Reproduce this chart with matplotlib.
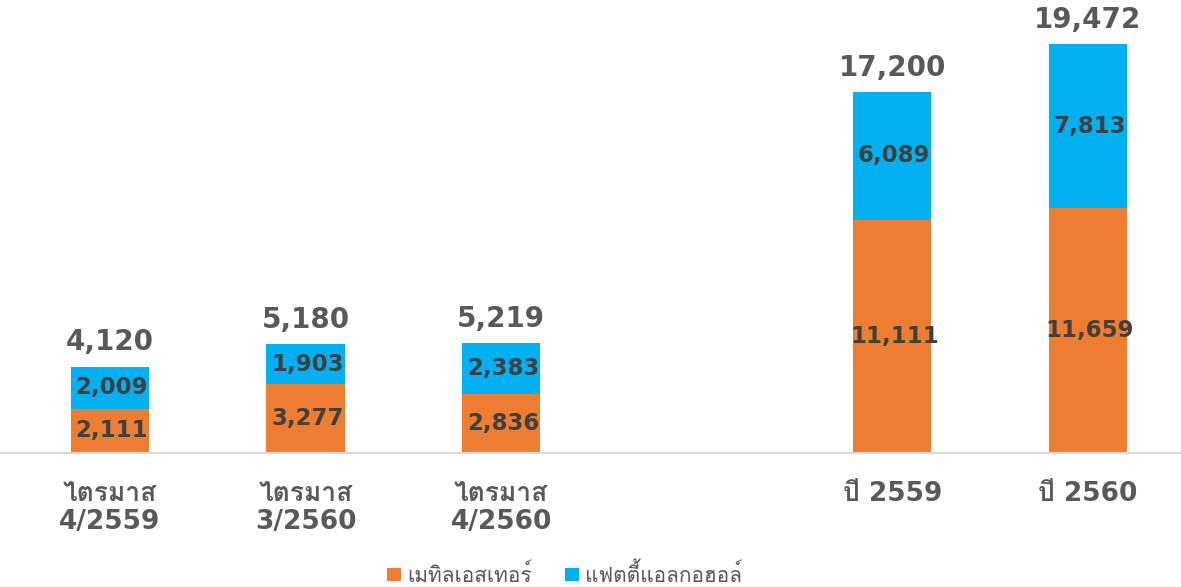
import matplotlib
matplotlib.use("Agg")
import matplotlib.pyplot as plt
from matplotlib import font_manager
from matplotlib.ft2font import FT2Font
import numpy as np

# data
categories = ["ไตรมาส\n4/2559", "ไตรมาส\n3/2560", "ไตรมาส\n4/2560", "", "ปี 2559", "ปี 2560"]
methyl = [2111, 3277, 2836, 0, 11111, 11659]
fatty = [2009, 1903, 2383, 0, 6089, 7813]
totals = [4120, 5180, 5219, 0, 17200, 19472]
series_names = ["เมทิลเอสเทอร์", "แฟตตี้แอลกอฮอล์"]
colors = ["#ED7D31", "#00B0F0"]

# pick a font that has Thai glyphs if one is installed
thai = None
for f in font_manager.fontManager.ttflist:
    try:
        if FT2Font(f.fname).get_char_index(0x0E44):
            thai = f.name
            break
    except Exception:
        pass
families = ["DejaVu Sans"] + ([thai] if thai else [])
plt.rcParams["font.family"] = families

fig = plt.figure(figsize=(11.81, 5.87), dpi=100)
ax = fig.add_axes([0.0, 0.228, 1.0, 0.716])

x = np.arange(len(categories))
b1 = ax.bar(x, methyl, width=0.40, color=colors[0], label=series_names[0])
b2 = ax.bar(x, fatty, width=0.40, bottom=methyl, color=colors[1], label=series_names[1])

for i in range(len(categories)):
    if totals[i] == 0:
        continue
    ax.text(x[i] + 0.01, methyl[i] / 2, f"{methyl[i]:,}", ha="center", va="center",
            fontsize=16.5, fontweight="bold", color="#404040")
    ax.text(x[i] + 0.01, methyl[i] + fatty[i] / 2, f"{fatty[i]:,}", ha="center", va="center",
            fontsize=16.5, fontweight="bold", color="#404040")
    ax.text(x[i], totals[i] + 480, f"{totals[i]:,}", ha="center", va="bottom",
            fontsize=20, fontweight="bold", color="#595959", clip_on=False)

ax.set_xlim(-0.562, 5.476)
ax.set_ylim(0, 20000)
ax.set_xticks(x)
ax.set_xticklabels(categories, fontsize=19, fontweight="bold", color="#595959", linespacing=1.1)
ax.tick_params(axis="x", length=0, pad=20)
ax.set_yticks([])
for s in ["top", "right", "left"]:
    ax.spines[s].set_visible(False)
ax.spines["bottom"].set_color("#D9D9D9")
ax.spines["bottom"].set_linewidth(1.5)
ax.patch.set_alpha(0)

fig.legend(handles=[b1, b2], loc="center", bbox_to_anchor=(0.478, 0.022), ncol=2,
           frameon=False, fontsize=15, handlelength=0.65, handleheight=0.65,
           handletextpad=0.3, columnspacing=1.6, labelcolor="#595959")

fig.savefig("out.png", dpi=100)
